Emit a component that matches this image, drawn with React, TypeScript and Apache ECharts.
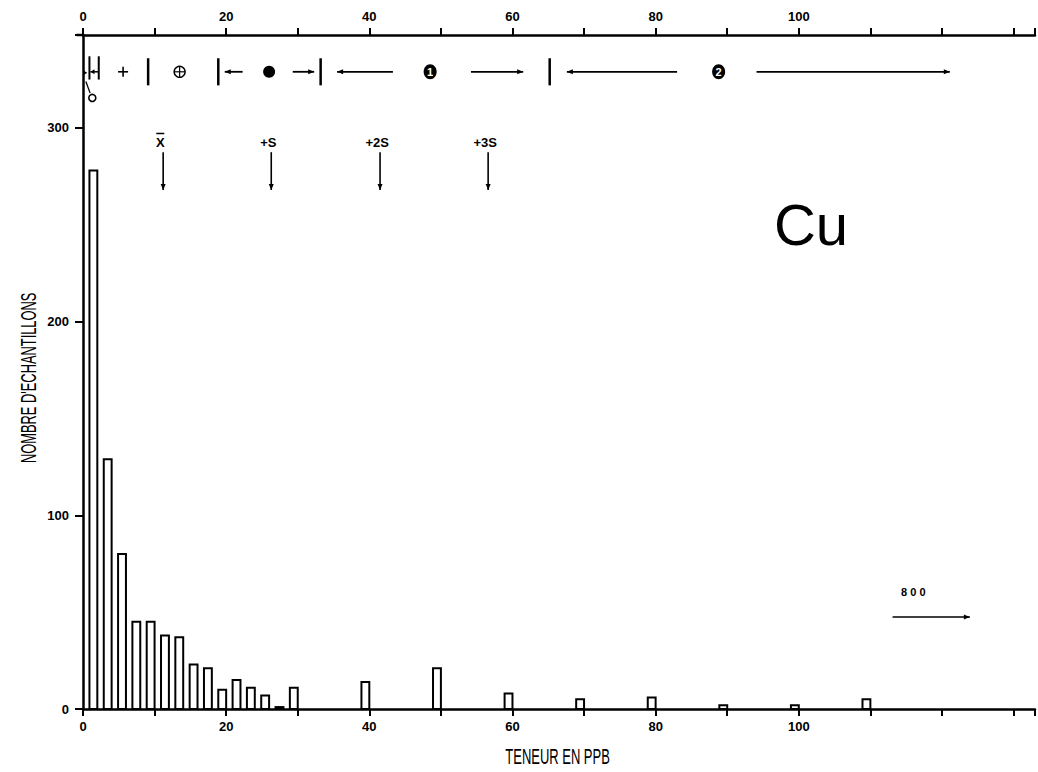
import React, { useEffect, useRef } from 'react';
import * as echarts from 'echarts';

// ---- data ----
const BIN_ENDS = [2, 4, 6, 8, 10, 12, 14, 16, 18, 20, 22, 24, 26, 28, 30, 40, 50, 60, 70, 80, 90, 100, 110];
const COUNTS = [278, 129, 80, 45, 45, 38, 37, 23, 21, 10, 15, 11, 7, 1, 11, 14, 21, 8, 5, 6, 2, 2, 5];
const X_TICK_LABELS = [0, 20, 40, 60, 80, 100];
const Y_TICK_LABELS = [0, 100, 200, 300];
const STAT_LABELS = ['X', '+S', '+2S', '+3S'];
const STAT_VALUES = [11.2, 26.3, 41.5, 56.6];
const CLASS_BOUNDS = [9.1, 18.9, 33.2, 65.2];
const CLASS_SYMBOLS = ['+', '⊕', '●', '1', '2'];
const CLASS_SYMBOL_POS = [5.6, 13.5, 26, 48.5, 88.8];
const LEFT_ARROWS = [[19.8, 22.3], [35.5, 43.3], [67.6, 83.0]];
const RIGHT_ARROWS = [[29.3, 32.3], [54.2, 61.5], [94.1, 121.1]];
const OFFSCALE_LABEL = '800';
const ELEMENT = 'Cu';
const X_TITLE = 'TENEUR EN PPB';
const Y_TITLE = "NOMBRE D'ECHANTILLONS";

const BAR_WIDTH_UNITS = 1.1;
const TICK_FONT = '"Liberation Sans", Arial, sans-serif';
const NARROW_FONT = '"Liberation Sans Narrow", "Liberation Sans", sans-serif';

export default function App() {
  const ref = useRef<HTMLDivElement>(null);
  useEffect(() => {
    if (!ref.current) return;
    const chart = echarts.init(ref.current, null, { renderer: 'svg' });
    const axisLine = { show: true, lineStyle: { color: '#000', width: 2.5 } };
    const xLabel = {
      show: true,
      color: '#000',
      fontFamily: TICK_FONT,
      fontWeight: 'bold' as const,
      fontSize: 13,
      margin: 11,
      formatter: (v: number) => (X_TICK_LABELS.indexOf(v) >= 0 ? String(v) : ''),
    };
    const option: any = {
      animation: false,
      backgroundColor: '#fff',
      grid: { left: 83, right: 3, top: 35, bottom: 63, containLabel: false },
      xAxis: [
        {
          type: 'value', min: 0, max: 133, interval: 10, position: 'bottom',
          axisLine, splitLine: { show: false },
          axisTick: { show: true, length: 7, lineStyle: { color: '#000', width: 2 } },
          axisLabel: xLabel,
        },
        {
          type: 'value', min: 0, max: 133, interval: 10, position: 'top',
          axisLine, splitLine: { show: false },
          axisTick: { show: true, length: 7, lineStyle: { color: '#000', width: 2 } },
          axisLabel: { ...xLabel, margin: 12 },
        },
      ],
      yAxis: {
        type: 'value', min: 0, max: 348, interval: 100,
        axisLine, splitLine: { show: false },
        axisTick: { show: true, length: 8, lineStyle: { color: '#000', width: 2 } },
        axisLabel: {
          color: '#000', fontFamily: TICK_FONT, fontWeight: 'bold', fontSize: 13, margin: 14,
          formatter: (v: number) => (Y_TICK_LABELS.indexOf(v) >= 0 ? String(v) : ''),
        },
      },
      series: [
        {
          type: 'custom',
          coordinateSystem: 'cartesian2d',
          xAxisIndex: 0,
          yAxisIndex: 0,
          data: BIN_ENDS.map((x, i) => [x, COUNTS[i]]),
          encode: { x: 0, y: 1 },
          renderItem: (_p: any, api: any) => {
            const end = api.value(0);
            const cnt = api.value(1);
            const a = api.coord([end - BAR_WIDTH_UNITS, 0]);
            const b = api.coord([end, cnt]);
            return {
              type: 'rect',
              shape: { x: a[0], y: b[1], width: b[0] - a[0], height: a[1] - b[1] },
              style: { fill: '#fff', stroke: '#000', lineWidth: 2 },
            };
          },
        },
      ],
    };
    chart.setOption(option);

    const p = (u: number, v: number) => chart.convertToPixel({ xAxisIndex: 0, yAxisIndex: 0 }, [u, v]) as number[];
    const els: any[] = [];
    const line = (a: number[], b: number[], w = 2) =>
      els.push({ type: 'line', shape: { x1: a[0], y1: a[1], x2: b[0], y2: b[1] }, style: { stroke: '#000', lineWidth: w } });
    const arrow = (a: number[], b: number[], w = 1.8, head = 6) => {
      line(a, b, w);
      const dx = b[0] - a[0], dy = b[1] - a[1];
      const len = Math.hypot(dx, dy) || 1;
      const ux = dx / len, uy = dy / len;
      const bx = b[0] - ux * head, by = b[1] - uy * head;
      els.push({
        type: 'polygon',
        shape: { points: [[b[0], b[1]], [bx - uy * 2.5, by + ux * 2.5], [bx + uy * 2.5, by - ux * 2.5]] },
        style: { fill: '#000' },
      });
    };
    const text = (pos: number[], t: string, style: any, extra: any = {}) =>
      els.push({ type: 'text', x: pos[0], y: pos[1], style: { text: t, fill: '#000', align: 'center', verticalAlign: 'middle', ...style }, ...extra });

    // top axis line extends slightly left of the y axis
    line(p(-0.9, 348), p(0, 348), 2.5);

    // class row
    const ROW = 329;
    CLASS_BOUNDS.forEach((u) => line(p(u, 336), p(u, 322), 2.5));
    LEFT_ARROWS.forEach(([a, b]) => arrow(p(b, ROW), p(a, ROW)));
    RIGHT_ARROWS.forEach(([a, b]) => arrow(p(a, ROW), p(b, ROW)));
    CLASS_SYMBOLS.forEach((s, i) => {
      const c = p(CLASS_SYMBOL_POS[i], ROW);
      if (s === '+') {
        line([c[0] - 5, c[1]], [c[0] + 5, c[1]], 1.6);
        line([c[0], c[1] - 5], [c[0], c[1] + 5], 1.6);
      } else if (s === '⊕') {
        els.push({ type: 'circle', shape: { cx: c[0], cy: c[1], r: 5.5 }, style: { fill: 'none', stroke: '#000', lineWidth: 1.4 } });
        line([c[0] - 5.5, c[1]], [c[0] + 5.5, c[1]], 1.2);
        line([c[0], c[1] - 5.5], [c[0], c[1] + 5.5], 1.2);
      } else if (s === '●') {
        els.push({ type: 'circle', shape: { cx: c[0], cy: c[1], r: 6 }, style: { fill: '#000' } });
      } else {
        els.push({ type: 'ellipse', shape: { cx: c[0], cy: c[1], rx: 6.5, ry: 7.5 }, style: { fill: '#000' } });
        text([c[0], c[1] + 0.5], s, { fontSize: 11, fontWeight: 'bold', fontFamily: TICK_FONT, fill: '#fff' });
      }
    });
    // near-origin marks
    line(p(0.9, 337), p(0.9, 325), 2);
    line(p(2.2, 337), p(2.2, 325), 2);
    arrow(p(2.1, ROW), p(1.05, ROW), 1.5, 4);
    arrow(p(0.05, ROW - 0.5), p(0.5, ROW - 0.5), 1.5, 3);
    line(p(0.4, 324), p(1.0, 318), 1.3);
    els.push({ type: 'circle', shape: { cx: p(1.3, 0)[0], cy: p(0, 315.5)[1], r: 3.5 }, style: { fill: 'none', stroke: '#000', lineWidth: 1.6 } });

    // statistics arrows
    STAT_LABELS.forEach((s, i) => {
      const u = STAT_VALUES[i];
      const lp = p(u - 0.4, 292.5);
      text(lp, s, { fontSize: 13, fontWeight: 'bold', fontFamily: TICK_FONT });
      if (s === 'X') line([lp[0] - 4, lp[1] - 9], [lp[0] + 4, lp[1] - 9], 1.5);
      arrow(p(u, 287.5), p(u, 268), 1.6, 6);
    });

    // element name
    text(p(101.7, 250), ELEMENT, { fontSize: 58, fontFamily: TICK_FONT });

    // off-scale value
    text(p(116, 60.5), OFFSCALE_LABEL.split('').join(' '), { fontSize: 11, fontWeight: 'bold', fontFamily: TICK_FONT });
    arrow(p(113.1, 47.5), p(123.9, 47.5), 1.5, 6);

    // axis titles (narrow, tall lettering)
    text(p(66.3, -24.5), X_TITLE, { fontSize: 22, fontFamily: NARROW_FONT }, { scaleX: 0.59 });
    text(p(-7.6, 171), Y_TITLE, { fontSize: 22, fontFamily: NARROW_FONT }, { scaleX: 0.585, rotation: Math.PI / 2 });

    chart.setOption({ graphic: { elements: els } });
    return () => chart.dispose();
  }, []);
  return <div ref={ref} style={{ position: 'absolute', left: 0, top: 0, width: 1038, height: 772 }} />;
}
